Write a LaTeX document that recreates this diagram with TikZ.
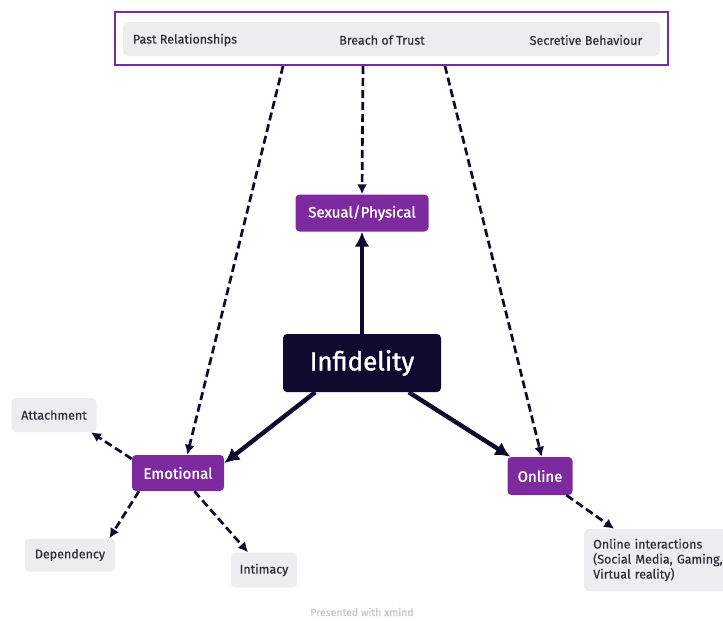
\documentclass[tikz,border=0pt]{standalone}
\usepackage{fontspec}
\setmainfont{Fira Sans}[FakeBold=0.4]
\newfontfamily\mediumfont{Fira Sans}[FakeBold=1.3]
\usetikzlibrary{arrows.meta}
\definecolor{xpurple}{HTML}{7E2A9F}
\definecolor{xnavy}{HTML}{0E0B2E}
\definecolor{xgrey}{HTML}{EDEDEF}
\definecolor{xtext}{HTML}{2E2E3A}
\tikzset{
	topic/.style={fill=xpurple, text=white, rounded corners=4pt, font=\mediumfont\fontsize{15}{18}\selectfont, inner sep=0pt},
	leaf/.style={fill=xgrey, text=xtext, rounded corners=4pt, font=\fontsize{12.5}{15}\selectfont, inner sep=0pt},
	cause/.style={text=xtext, font=\fontsize{12.5}{15}\selectfont},
	solidarrow/.style={line width=4.4pt, draw=xnavy, -{Latex[length=15pt, width=15pt]}},
	dashedarrow/.style={line width=2.7pt, draw=xnavy, dash pattern=on 8pt off 4pt, -{Latex[length=10pt, width=10pt]}}
}
\begin{document}
\begin{tikzpicture}[x=1pt, y=-1pt]
	\useasboundingbox[fill=white] (0, 0) rectangle (723, 621);
	% summary of causes
	\fill[xgrey, rounded corners=5pt] (123, 22) rectangle (660, 56);
	\draw[xpurple, line width=2.2pt] (115, 12) rectangle (668, 65);
	\node[cause] (past) at (185, 40) {Past Relationships};
	\node[cause] (breach) at (382, 40) {Breach of Trust};
	\node[cause] (secret) at (586, 40) {Secretive Behaviour};
	\coordinate (c1) at (283, 66);
	\coordinate (c2) at (363, 66);
	\coordinate (c3) at (445, 66);
	% main topic and subtopics
	\node[fill=xnavy, text=white, rounded corners=4pt, minimum width=158pt, minimum height=58pt, font=\mediumfont\fontsize{26}{30}\selectfont] (inf) at (362, 363) {Infidelity};
	\node[topic, minimum width=133pt, minimum height=37pt] (sex) at (362, 213) {Sexual/Physical};
	\node[topic, minimum width=92pt, minimum height=36pt] (emo) at (178, 473) {Emotional};
	\node[topic, minimum width=65pt, minimum height=38pt] (onl) at (540, 476) {Online};
	% leaves
	\node[leaf, minimum width=85pt, minimum height=34pt] (att) at (54, 415) {Attachment};
	\node[leaf, minimum width=90pt, minimum height=33pt] (dep) at (70, 555) {Dependency};
	\node[leaf, minimum width=66pt, minimum height=35pt] (int) at (264, 570) {Intimacy};
	\node[leaf, anchor=west, minimum height=62pt, text width=150pt, align=left, inner xsep=9pt] (oi) at (584, 560) {Online interactions\\(Social Media, Gaming,\\Virtual reality)};
	% connectors
	\draw[solidarrow] (inf.north) -- (sex.south);
	\draw[solidarrow] (inf.212) -- (emo.12);
	\draw[solidarrow] (inf.328) -- (onl.147);
	\draw[dashedarrow] (c1) -- (emo.63);
	\draw[dashedarrow] (c2) -- (sex.north);
	\draw[dashedarrow] (c3) -- (onl.85);
	\draw[dashedarrow] (emo.163) -- (att.335);
	\draw[dashedarrow] (emo.205) -- (dep.23);
	\draw[dashedarrow] (emo.312) -- (int.132);
	\draw[dashedarrow] (onl.324) -- (oi.150);
	\node[text=black!22, font=\fontsize{10.5}{12}\selectfont] (credit) at (362, 612) {Presented with {\mediumfont xmind}};
\end{tikzpicture}
\end{document}
